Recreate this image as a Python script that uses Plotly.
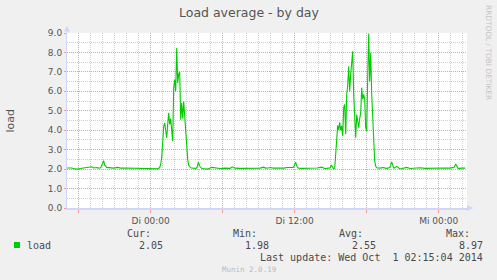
import plotly.graph_objects as go
import pandas as pd

# ---------------- data ----------------
title_text = "Load average - by day"
base_time = "2014-09-30 00:00:00"
# minutes relative to Di 00:00 (Tue 30 Sep 2014)
minutes = [
    -420, -395, -380, -365, -345, -330, -315, -305, -295, -285, -270, -260, -250,
    -235, -230, -220, -205, -185, -165, -150, -125, -100, -75, -55, -30, -5, 15, 35,
    45, 50,
    55, 60, 65, 70, 75, 80, 85, 90, 95, 100, 105, 110, 115, 120, 125, 130, 135, 140,
    145, 150, 155, 160, 165, 170, 175, 180, 185, 190, 195, 200,
    212, 227, 232, 238, 247, 255, 272, 287, 305, 322, 347, 372, 397, 408, 422, 447,
    472, 497, 522, 547, 563, 576, 587, 597, 612, 632, 647, 667, 680, 697, 713, 719,
    725, 732, 739, 757, 777, 797, 812, 832, 855, 872, 887, 897, 903, 909, 915,
    920, 925, 930, 935, 940, 945, 950, 955, 960, 965, 970, 975, 980, 985, 990, 995,
    1000, 1005, 1010, 1015, 1020, 1025, 1030, 1035, 1040, 1045, 1050, 1055, 1060,
    1065, 1070, 1075, 1080, 1085, 1090, 1095, 1100, 1105, 1110, 1115, 1120, 1125,
    1130,
    1146, 1163, 1177, 1187, 1197, 1205, 1212, 1217, 1230, 1247, 1262, 1280, 1297,
    1322, 1347, 1372, 1397, 1422, 1447, 1472, 1497, 1517, 1525, 1532, 1538, 1552,
    1572,
]
load = [
    2.06, 2.06, 2.01, 2.00, 2.04, 2.06, 2.09, 2.07, 2.12, 2.06, 2.08, 2.05, 2.07,
    2.43, 2.20, 2.09, 2.06, 2.05, 2.09, 2.05, 2.06, 2.05, 2.07, 2.06, 2.05, 2.01, 2.00, 2.01,
    2.08, 2.25,
    2.60, 3.30, 4.20, 4.37, 3.90, 3.60, 4.30, 4.89, 4.30, 4.60, 4.00, 3.43, 6.20, 6.60,
    6.00, 8.23, 6.43, 6.90,
    7.00, 4.54, 5.40, 4.60, 5.48, 4.70, 4.20, 3.30, 2.50, 2.20, 2.12, 2.07,
    2.05, 2.04, 2.10, 2.35, 2.12, 2.04, 2.01, 2.00, 2.09, 2.05, 2.03, 2.05, 2.04, 2.12, 2.05, 2.04,
    2.05, 2.05, 2.05, 2.05, 2.10, 2.05, 2.06, 2.08, 2.05, 2.04, 2.03, 2.05, 2.08, 2.06, 2.08, 2.20,
    2.35, 2.12, 2.05, 2.04, 2.05, 2.06, 2.04, 2.06, 2.10, 2.02, 2.05, 2.06, 2.21, 2.10, 2.02,
    2.04, 3.00, 4.00, 4.25, 4.00, 4.40, 4.00, 4.22, 3.70, 5.16, 5.33, 3.79, 5.84, 6.30, 7.29, 6.00,
    6.90, 7.60, 8.06, 5.84, 4.81, 3.62, 4.81, 4.30, 4.13, 4.60, 4.89, 6.18, 5.58,
    5.84, 5.58, 4.13, 3.96, 6.69, 8.97, 6.50, 7.99, 5.84, 4.47, 3.10, 2.42, 2.15,
    2.07,
    2.05, 2.08, 2.04, 2.05, 2.10, 2.37, 2.15, 2.05, 2.14, 2.01, 2.04, 2.09, 2.03,
    2.05, 2.07, 2.04, 2.05, 2.06, 2.05, 2.06, 2.05, 2.10, 2.26, 2.12, 2.03, 2.05,
    2.05,
]
x_range = ["2014-09-29 17:01:30", "2014-10-01 02:21:30"]
x_ticks = ["2014-09-29 18:00", "2014-09-30 00:00", "2014-09-30 06:00",
           "2014-09-30 12:00", "2014-09-30 18:00", "2014-10-01 00:00"]
x_labels = ["", "Di 00:00", "", "Di 12:00", "", "Mi 00:00"]
y_ticks = [0, 1, 2, 3, 4, 5, 6, 7, 8, 9]
y_labels = ["0.0", "1.0", "2.0", "3.0", "4.0", "5.0", "6.0", "7.0", "8.0", "9.0"]
y_title = "load"
series_name = "load"
stat_headers = ["Cur:", "Min:", "Avg:", "Max:"]
stat_values = ["2.05", "1.98", "2.55", "8.97"]
last_update = "Last update: Wed Oct\u00a0\u00a01 02:15:04 2014"
footer = "Munin 2.0.19"
watermark = "RRDTOOL / TOBI OETIKER"

# ---------------- layout geometry ----------------
W, H = 497, 280
L, R, T, B = 67, 467, 33, 208


def px_x(p):
    return (p - L) / (R - L)


def px_y(p):
    return (B - p) / (B - T)


times = pd.to_datetime(base_time) + pd.to_timedelta(minutes, unit="min")

# minor grid positions (hourly / every 0.5), skipping the major ones
major_times = pd.to_datetime(x_ticks)
hours = pd.date_range("2014-09-29 18:00", "2014-10-01 02:00", freq="1h")
minor_x = [h.strftime("%Y-%m-%d %H:%M") for h in hours if h not in set(major_times)]
minor_y = [v + 0.5 for v in y_ticks[:-1]]

fig = go.Figure()

major_grid = "rgb(250,150,150)"
minor_grid = "rgb(205,205,205)"
axis_col = "#CFD6F8"
dot = "1px,1px"

fig.add_trace(go.Scatter(
    x=times, y=load, mode="lines", name=series_name,
    line=dict(color="#00CC00", width=1.1), showlegend=False, hoverinfo="skip",
))

fig.update_xaxes(
    type="date", range=x_range,
    tickmode="array", tickvals=x_ticks, ticktext=x_labels,
    showgrid=True, gridcolor=major_grid, griddash=dot, gridwidth=1,
    ticks="outside", ticklen=3, tickcolor=major_grid, tickwidth=1,
    tickfont=dict(family="DejaVu Sans", size=9, color="#555555"),
    showline=True, linecolor=axis_col, linewidth=2,
    zeroline=False, fixedrange=True,
    minor=dict(tickmode="array", tickvals=minor_x,
               showgrid=True, gridcolor=minor_grid, griddash=dot,
               gridwidth=1, ticks=""),
)
fig.update_yaxes(
    range=[0, 9], tickmode="array", tickvals=y_ticks, ticktext=y_labels,
    showgrid=True, gridcolor=major_grid, griddash=dot, gridwidth=1,
    ticks="outside", ticklen=2, tickcolor=major_grid, tickwidth=1,
    tickfont=dict(family="DejaVu Sans", size=9, color="#555555"),
    showline=True, linecolor=axis_col, linewidth=1,
    zeroline=False, fixedrange=True,
    minor=dict(tickmode="array", tickvals=minor_y, showgrid=True,
               gridcolor=minor_grid, griddash=dot, gridwidth=1, ticks=""),
)

mono = "DejaVu Sans Mono"
txt = "#4A4A4A"
ann = []


def add(text, x, y, xa="center", ya="middle", size=10, color=txt, family=mono, angle=0):
    ann.append(dict(text=text, x=px_x(x), y=px_y(y), xref="paper", yref="paper",
                    xanchor=xa, yanchor=ya, showarrow=False, borderpad=0,
                    textangle=angle, font=dict(family=family, size=size, color=color)))


add(title_text, 248.5, 13, size=12.5, color="#555555", family="DejaVu Sans")
add(y_title, 10, 120.5, size=11, color="#555555", family="DejaVu Sans", angle=-90)
add(watermark, 488.5, 52.5, size=7.4, color="#C4C4C4", family="DejaVu Sans", angle=90)
add(series_name, 25.5, 245, xa="left")
hdr_right = [151.5, 258.3, 364.0, 471.3]
val_right = [163.5, 270.3, 376.8, 483.5]
for h, v, hx, vx in zip(stat_headers, stat_values, hdr_right, val_right):
    add(h, hx, 233.5, xa="right")
    add(v, vx, 245, xa="right")
add(last_update, 483.5, 257.7, xa="right")
add(footer, 249, 269, size=7.5, color="#BBBBBB")

shapes = [
    dict(type="rect", xref="paper", yref="paper",
         x0=px_x(14), x1=px_x(20), y0=px_y(248), y1=px_y(242),
         fillcolor="#00CC00", line=dict(width=0)),
    # axis arrows
    dict(type="path", xref="paper", yref="paper",
         path=f"M {px_x(64)} {px_y(31.5)} L {px_x(70)} {px_y(31.5)} L {px_x(67)} {px_y(26)} Z",
         fillcolor=axis_col, line=dict(width=0)),
    dict(type="path", xref="paper", yref="paper",
         path=f"M {px_x(467)} {px_y(205)} L {px_x(467)} {px_y(211)} L {px_x(473.5)} {px_y(208)} Z",
         fillcolor=axis_col, line=dict(width=0)),
    dict(type="line", xref="paper", yref="paper",
         x0=0, x1=0, y0=1, y1=px_y(31), line=dict(color=axis_col, width=1)),
]

fig.update_layout(
    width=W, height=H, autosize=False,
    margin=dict(l=L, r=W - R, t=T, b=H - B, pad=0),
    paper_bgcolor="#F0F0F0", plot_bgcolor="#FFFFFF",
    annotations=ann, shapes=shapes, showlegend=False,
)

fig.write_html("out.html", config={"displayModeBar": False})
